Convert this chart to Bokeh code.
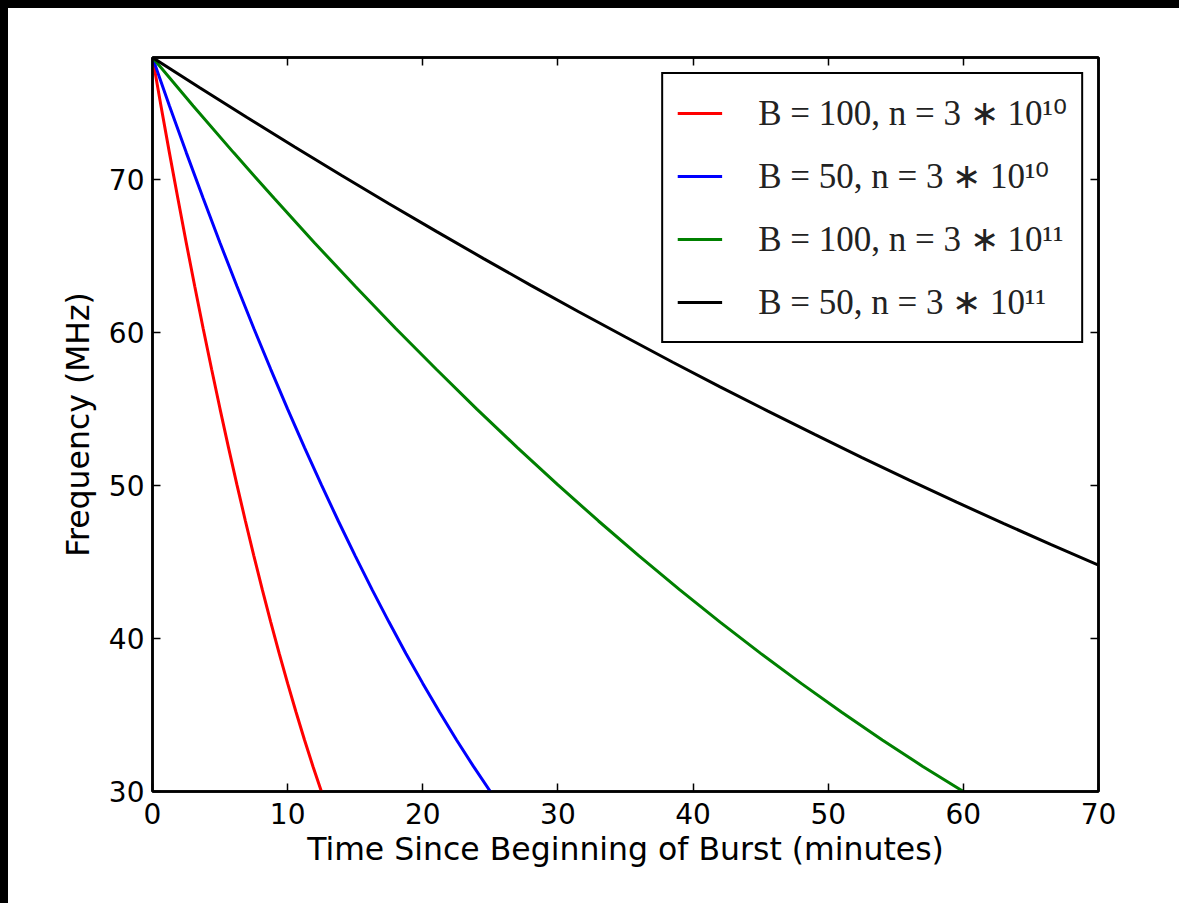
from bokeh.plotting import figure
from bokeh.models import Range1d, LinearAxis, FixedTicker, Legend, LegendItem
from bokeh.embed import file_html
from bokeh.resources import INLINE

# ---- data ----
shape_f = [78, 74.85, 71.78, 68.79, 65.87, 63.04, 60.28, 57.61, 55.01, 52.49, 50.05,
           47.69, 45.41, 43.20, 41.08, 39.03, 37.07, 35.18, 33.37, 31.64, 30.0]

red_t = [0, 0.625, 1.25, 1.875, 2.5, 3.125, 3.75, 4.375, 5, 5.625, 6.25,
         6.875, 7.5, 8.125, 8.75, 9.375, 10, 10.625, 11.25, 11.875, 12.5]
red_f = list(shape_f)

blue_t = [0, 1.25, 2.5, 3.75, 5, 6.25, 7.5, 8.75, 10, 11.25, 12.5,
          13.75, 15, 16.25, 17.5, 18.75, 20, 21.25, 22.5, 23.75, 25]
blue_f = list(shape_f)

green_t = [0, 3, 6, 9, 12, 15, 18, 21, 24, 27, 30,
           33, 36, 39, 42, 45, 48, 51, 54, 57, 60]
green_f = list(shape_f)

black_t = [0, 3.5, 7, 10.5, 14, 17.5, 21, 24.5, 28, 31.5, 35,
           38.5, 42, 45.5, 49, 52.5, 56, 59.5, 63, 66.5, 70]
black_f = [78, 76.02, 74.07, 72.16, 70.28, 68.44, 66.63, 64.85, 63.10, 61.39, 59.72,
           58.07, 56.46, 54.89, 53.35, 51.84, 50.36, 48.92, 47.52, 46.14, 44.80]

labels = ["B = 100, n = 3 ∗ 10¹⁰", "B = 50, n = 3 ∗ 10¹⁰",
          "B = 100, n = 3 ∗ 10¹¹", "B = 50, n = 3 ∗ 10¹¹"]
x_ticks = [0, 10, 20, 30, 40, 50, 60, 70]
y_ticks = [30, 40, 50, 60, 70]

FONT = "DejaVu Sans"
TICK_SIZE = "28px"
LABEL_SIZE = "31.5px"

p = figure(width=1171, height=895, output_backend="svg", toolbar_location=None,
           x_range=Range1d(0, 70), y_range=Range1d(30, 78),
           min_border_left=144, min_border_right=81, min_border_top=49, min_border_bottom=112,
           background_fill_color="white", border_fill_color="white")
p.grid.visible = False
p.outline_line_color = "black"
p.outline_line_width = 2.5

renderers = []
for t, f, c in [(red_t, red_f, "#ff0000"), (blue_t, blue_f, "#0000ff"),
                (green_t, green_f, "#008000"), (black_t, black_f, "#000000")]:
    r = p.line(t, f, line_color=c, line_width=3)
    renderers.append(r)

def style_axis(ax, ticks, show_labels=True):
    ax.ticker = FixedTicker(ticks=ticks)
    ax.axis_line_color = "black"
    ax.axis_line_width = 2.5
    ax.major_tick_in = 8
    ax.major_tick_out = 0
    ax.major_tick_line_color = "black"
    ax.major_tick_line_width = 1.5
    ax.minor_tick_line_color = None
    ax.major_label_text_font = FONT
    ax.major_label_text_font_size = TICK_SIZE
    ax.major_label_text_color = "black" if show_labels else None
    ax.axis_label_text_font = FONT
    ax.axis_label_text_font_size = LABEL_SIZE
    ax.axis_label_text_font_style = "normal"
    ax.axis_label_text_color = "black"

xa = p.xaxis[0]
ya = p.yaxis[0]
style_axis(xa, x_ticks)
style_axis(ya, y_ticks)
xa.axis_label = "Time Since Beginning of Burst (minutes)"
ya.axis_label = "Frequency (MHz)"
xa.major_label_standoff = 11
xa.axis_label_standoff = 4
ya.major_label_standoff = 8
ya.axis_label_standoff = 10

top = LinearAxis()
right = LinearAxis()
style_axis(top, x_ticks, show_labels=False)
style_axis(right, y_ticks, show_labels=False)
top.major_label_text_font_size = "0px"
right.major_label_text_font_size = "0px"
top.major_label_standoff = 0
right.major_label_standoff = 0
p.add_layout(top, "above")
p.add_layout(right, "right")

legend = Legend(items=[LegendItem(label=l, renderers=[r]) for l, r in zip(labels, renderers)],
                location="top_right")
legend.label_text_font = "Liberation Serif"
legend.label_text_font_size = "35px"
legend.label_text_color = "#222222"
legend.glyph_width = 45
legend.glyph_height = 50
legend.label_height = 50
legend.label_standoff = 36
legend.spacing = 13
legend.padding = 14
legend.margin = 15
legend.border_line_color = "black"
legend.border_line_alpha = 1.0
legend.border_line_width = 2.5
legend.background_fill_color = "white"
legend.background_fill_alpha = 1.0
p.add_layout(legend, "center")

html = file_html(p, INLINE)
html = html.replace(
    "</head>",
    "<style>html{background:#fff !important;}"
    "body{background:#fff !important;margin:0 !important;padding:8px 0 0 8px !important;"
    "background-image:linear-gradient(#000,#000),linear-gradient(#000,#000) !important;"
    "background-repeat:no-repeat !important;"
    "background-size:100% 8px,8px 100% !important;"
    "background-position:0 0,0 0 !important;min-height:100vh;box-sizing:border-box;}</style></head>", 1)
open("out.html", "w").write(html)
